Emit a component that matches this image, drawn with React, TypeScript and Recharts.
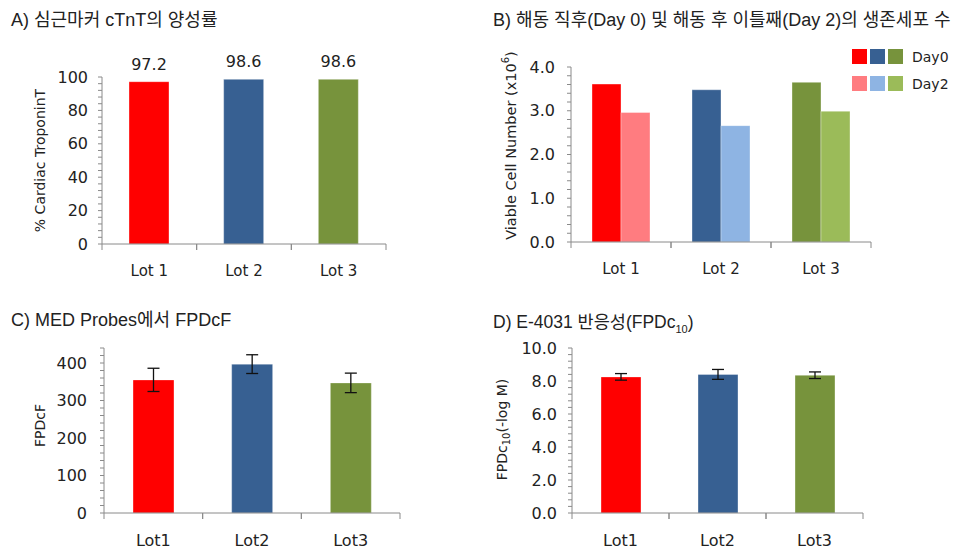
import React from 'react';
import { BarChart, Bar, XAxis, YAxis, Cell, LabelList, ErrorBar, Legend } from 'recharts';

// ---------- data ----------
const lotsSpaced = ['Lot 1', 'Lot 2', 'Lot 3'];
const lotsCompact = ['Lot1', 'Lot2', 'Lot3'];
const lotColors = ['#FF0000', '#376092', '#77933C'];
const lotColorsLight = ['#FF7C80', '#8EB4E3', '#9BBB59'];
const seriesNames = ['Day0', 'Day2'];

const troponinValues = [97.2, 98.6, 98.6];
const viableDay0 = [3.61, 3.48, 3.65];
const viableDay2 = [2.96, 2.66, 2.99];
const fpdcfValues = [355, 397, 347];
const fpdcfErrors = [31, 25, 26];
const fpdc10Values = [8.25, 8.4, 8.35];
const fpdc10Errors = [0.2, 0.3, 0.2];

// tick lists (all tick marks, and the labelled ones)
const ticksA = [0, 4, 8, 12, 16, 20, 24, 28, 32, 36, 40, 44, 48, 52, 56, 60, 64, 68, 72, 76, 80, 84, 88, 92, 96, 100];
const majorA = [0, 20, 40, 60, 80, 100];
const ticksB = [0, 0.2, 0.4, 0.6, 0.8, 1, 1.2, 1.4, 1.6, 1.8, 2, 2.2, 2.4, 2.6, 2.8, 3, 3.2, 3.4, 3.6, 3.8, 4];
const majorB = [0, 1, 2, 3, 4];
const ticksC = [0, 20, 40, 60, 80, 100, 120, 140, 160, 180, 200, 220, 240, 260, 280, 300, 320, 340, 360, 380, 400, 420, 440];
const majorC = [0, 100, 200, 300, 400];
const ticksD = [0, 0.4, 0.8, 1.2, 1.6, 2, 2.4, 2.8, 3.2, 3.6, 4, 4.4, 4.8, 5.2, 5.6, 6, 6.4, 6.8, 7.2, 7.6, 8, 8.4, 8.8, 9.2, 9.6, 10];
const majorD = [0, 2, 4, 6, 8, 10];

const dataA = lotsSpaced.map((lot, i) => ({ lot, value: troponinValues[i] }));
const dataB = lotsSpaced.map((lot, i) => ({ lot, day0: viableDay0[i], day2: viableDay2[i] }));
const dataC = lotsCompact.map((lot, i) => ({ lot, value: fpdcfValues[i], err: fpdcfErrors[i] }));
const dataD = lotsCompact.map((lot, i) => ({ lot, value: fpdc10Values[i], err: fpdc10Errors[i] }));

// ---------- styles ----------
const FONT = '"DejaVu Sans", Verdana, sans-serif';
const TITLE_FONT = '"Liberation Sans", "Noto Sans CJK KR", sans-serif';
const TEXT = '#222222';
const AXIS = '#8a8a8a';

const near = (v: number, list: number[]) => list.some((m) => Math.abs(m - v) < 1e-9);

const Title = ({ left, top, size = 18, children }: any) => (
  <div
    style={{
      position: 'absolute',
      left,
      top,
      fontFamily: TITLE_FONT,
      fontSize: size,
      lineHeight: '20px',
      color: TEXT,
      whiteSpace: 'nowrap',
    }}
  >
    {children}
  </div>
);

const makeYLabel = (dx: number, dy: number, fontSize: number, content: React.ReactNode) => (props: any) => {
  const vb = props.viewBox || { x: 0, y: 0, width: 0, height: 0 };
  const cx = vb.x + dx;
  const cy = vb.y + vb.height / 2 + dy;
  return (
    <text
      x={cx}
      y={cy}
      transform={`rotate(-90, ${cx}, ${cy})`}
      textAnchor="middle"
      dominantBaseline="central"
      fontSize={fontSize}
      fontFamily={FONT}
      fill={TEXT}
    >
      {content}
    </text>
  );
};

// category tick: label plus a tick mark at each band edge
const makeCatTick = (fontSize: number, gap: number) => (props: any) => {
  const { x, y, payload } = props;
  const half = payload && payload.offset ? payload.offset : 0;
  return (
    <g>
      <line x1={x - half} x2={x - half} y1={y} y2={y + 6} stroke={AXIS} />
      <line x1={x + half} x2={x + half} y1={y} y2={y + 6} stroke={AXIS} />
      <text
        x={x}
        y={y + gap}
        textAnchor="middle"
        dy="0.71em"
        fontSize={fontSize}
        fontFamily={FONT}
        fill={TEXT}
      >
        {payload.value}
      </text>
    </g>
  );
};

const LegendB = () => (
  <div style={{ font: `14px ${FONT}`, color: TEXT }}>
    {[lotColors, lotColorsLight].map((cols, r) => (
      <div key={r} style={{ display: 'flex', alignItems: 'center', height: 27 }}>
        {cols.map((c, i) => (
          <span
            key={i}
            style={{ display: 'inline-block', width: 15, height: 15, background: c, marginRight: 3 }}
          />
        ))}
        <span style={{ marginLeft: 6 }}>{seriesNames[r]}</span>
      </div>
    ))}
  </div>
);

const barStroke = 'rgba(255,255,255,0.35)';

const CatAxis = (fontSize: number, gap: number) => (
  <XAxis
    dataKey="lot"
    height={30}
    tickLine={false}
    tickSize={0}
    tickMargin={0}
    stroke={AXIS}
    interval={0}
    tick={makeCatTick(fontSize, gap)}
  />
);

export default function App() {
  return (
    <div
      style={{
        position: 'absolute',
        left: 0,
        top: 0,
        width: 959,
        height: 549,
        background: '#ffffff',
        overflow: 'hidden',
      }}
    >
      {/* Panel A */}
      <div style={{ position: 'absolute', left: 0, top: 0, width: 480, height: 290 }}>
        <Title left={11} top={10}>A) 심근마커 cTnT의 양성률</Title>
        <BarChart
          width={480}
          height={290}
          data={dataA}
          margin={{ top: 77, right: 94, left: 22, bottom: 16 }}
        >
          {CatAxis(15, 21)}
          <YAxis
            width={80}
            domain={[0, 100]}
            ticks={ticksA}
            interval={0}
            tickSize={4}
            tickMargin={10}
            stroke={AXIS}
            tickFormatter={(v: number) => (near(v, majorA) ? String(v) : '')}
            tick={{ fill: TEXT, fontSize: 16, fontFamily: FONT }}
            label={{ content: makeYLabel(18, 0, 14, '% Cardiac TroponinT') }}
          />
          <Bar dataKey="value" barSize={40} isAnimationActive={false} stroke={barStroke}>
            {dataA.map((_, i) => (
              <Cell key={i} fill={lotColors[i]} />
            ))}
            <LabelList
              dataKey="value"
              position="top"
              offset={12}
              fill={TEXT}
              style={{ fontSize: 16, fontFamily: FONT }}
            />
          </Bar>
        </BarChart>
      </div>

      {/* Panel B */}
      <div style={{ position: 'absolute', left: 480, top: 0, width: 479, height: 290 }}>
        <Title left={13} top={10}>B) 해동 직후(Day 0) 및 해동 후 이틀째(Day 2)의 생존세포 수</Title>
        <BarChart
          width={479}
          height={290}
          data={dataB}
          barGap={0}
          margin={{ top: 67, right: 88, left: 11, bottom: 18 }}
        >
          {CatAxis(15, 21)}
          <YAxis
            width={80}
            domain={[0, 4]}
            ticks={ticksB}
            interval={0}
            tickSize={4}
            tickMargin={12}
            stroke={AXIS}
            tickFormatter={(v: number) => (near(v, majorB) ? v.toFixed(1) : '')}
            tick={{ fill: TEXT, fontSize: 16, fontFamily: FONT }}
            label={{
              content: makeYLabel(
                20,
                -9,
                14.5,
                <>
                  Viable Cell Number (x10
                  <tspan fontSize={10} dy={-6}>6</tspan>
                  <tspan dy={6}>)</tspan>
                </>
              ),
            }}
          />
          <Legend
            layout="vertical"
            align="center"
            verticalAlign="middle"
            content={() => <LegendB />}
            wrapperStyle={{ position: 'absolute', top: 43, left: 372, width: 110, margin: 0 }}
          />
          <Bar dataKey="day0" name={seriesNames[0]} barSize={29} isAnimationActive={false} stroke={barStroke} fill={lotColors[0]}>
            {dataB.map((_, i) => (
              <Cell key={i} fill={lotColors[i]} />
            ))}
          </Bar>
          <Bar dataKey="day2" name={seriesNames[1]} barSize={29} isAnimationActive={false} stroke={barStroke} fill={lotColorsLight[0]}>
            {dataB.map((_, i) => (
              <Cell key={i} fill={lotColorsLight[i]} />
            ))}
          </Bar>
        </BarChart>
      </div>

      {/* Panel C */}
      <div style={{ position: 'absolute', left: 0, top: 290, width: 480, height: 259 }}>
        <Title left={11} top={20}>C) MED Probes에서 FPDcF</Title>
        <BarChart
          width={480}
          height={259}
          data={dataC}
          margin={{ top: 58, right: 80, left: 24, bottom: 6 }}
        >
          {CatAxis(16, 21.5)}
          <YAxis
            width={80}
            domain={[0, 440]}
            ticks={ticksC}
            interval={0}
            tickSize={4}
            tickMargin={13}
            stroke={AXIS}
            tickFormatter={(v: number) => (near(v, majorC) ? String(v) : '')}
            tick={{ fill: TEXT, fontSize: 16, fontFamily: FONT }}
            label={{ content: makeYLabel(16, -5, 14, 'FPDcF') }}
          />
          <Bar dataKey="value" barSize={41} isAnimationActive={false} stroke={barStroke}>
            {dataC.map((_, i) => (
              <Cell key={i} fill={lotColors[i]} />
            ))}
            <ErrorBar dataKey="err" width={6} stroke="#111" strokeWidth={1.3} direction="y" />
          </Bar>
        </BarChart>
      </div>

      {/* Panel D */}
      <div style={{ position: 'absolute', left: 480, top: 290, width: 479, height: 259 }}>
        <Title left={13} top={22} size={17.5}>
          D) E-4031 반응성(FPDc<sub style={{ fontSize: 11 }}>10</sub>)
        </Title>
        <BarChart
          width={479}
          height={259}
          data={dataD}
          margin={{ top: 58, right: 96, left: 12, bottom: 6 }}
        >
          {CatAxis(16, 21.5)}
          <YAxis
            width={80}
            domain={[0, 10]}
            ticks={ticksD}
            interval={0}
            tickSize={4}
            tickMargin={11}
            stroke={AXIS}
            tickFormatter={(v: number) => (near(v, majorD) ? v.toFixed(1) : '')}
            tick={{ fill: TEXT, fontSize: 16, fontFamily: FONT }}
            label={{
              content: makeYLabel(
                10,
                -1,
                14,
                <>
                  FPDc
                  <tspan fontSize={10} dy={4}>10</tspan>
                  <tspan dy={-4}>(-log M)</tspan>
                </>
              ),
            }}
          />
          <Bar dataKey="value" barSize={40} isAnimationActive={false} stroke={barStroke}>
            {dataD.map((_, i) => (
              <Cell key={i} fill={lotColors[i]} />
            ))}
            <ErrorBar dataKey="err" width={6} stroke="#111" strokeWidth={1.3} direction="y" />
          </Bar>
        </BarChart>
      </div>
    </div>
  );
}
